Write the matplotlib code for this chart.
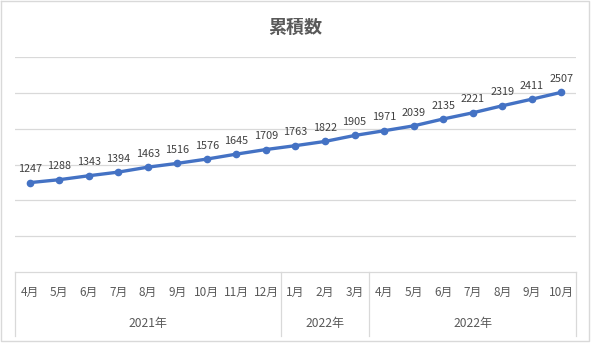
import matplotlib
matplotlib.use("Agg")
import matplotlib.pyplot as plt
from matplotlib.lines import Line2D

plt.rcParams['font.family'] = ['Noto Sans CJK JP', 'DejaVu Sans']

months = ["4月", "5月", "6月", "7月", "8月", "9月", "10月", "11月", "12月",
          "1月", "2月", "3月",
          "4月", "5月", "6月", "7月", "8月", "9月", "10月"]
values = [1247, 1288, 1343, 1394, 1463, 1516, 1576, 1645, 1709,
          1763, 1822, 1905,
          1971, 2039, 2135, 2221, 2319, 2411, 2507]
# year groups: (label, number of months)
groups = [("2021年", 9), ("2022年", 3), ("2022年", 7)]

W, H = 595, 344
fig = plt.figure(figsize=(W / 100, H / 100), dpi=100)
fig.patch.set_facecolor("white")

left, right, top, bottom = 15, 576, 57, 272
ax = fig.add_axes([left / W, 1 - bottom / H, (right - left) / W, (bottom - top) / H])

n = len(values)
x = list(range(n))
ax.plot(x, values, color="#4472C4", linewidth=2.4, marker="o", markersize=4.5,
        zorder=3, solid_capstyle="round")
for xi, v in zip(x, values):
    ax.annotate(str(v), (xi, v), textcoords="offset points", xytext=(0, 6),
                ha="center", va="bottom", fontsize=7.8, color="#404040")

ax.set_xlim(-0.5, n - 0.5)
ax.set_ylim(0, 3000)
ax.set_yticks(range(500, 3001, 500))
ax.yaxis.grid(True, color="#D9D9D9", linewidth=0.9)
ax.set_axisbelow(True)
ax.tick_params(left=False, labelleft=False, bottom=False, labelbottom=False)
for side in ["left", "right", "top"]:
    ax.spines[side].set_visible(False)
ax.spines["bottom"].set_color("#D9D9D9")
ax.spines["bottom"].set_linewidth(0.9)

# category table below the plot
table_bottom = 336
colw = (right - left) / n


def fx(px):
    return px / W


def fy(py):
    return 1 - py / H


bounds = [0]
for _, cnt in groups:
    bounds.append(bounds[-1] + cnt)
for b in bounds:
    xp = left + b * colw
    fig.add_artist(Line2D([fx(xp), fx(xp)], [fy(bottom), fy(table_bottom)],
                          color="#D9D9D9", linewidth=0.9))

for i, m in enumerate(months):
    fig.text(fx(left + (i + 0.5) * colw), fy(292), m, ha="center", va="center",
             fontsize=8.5, color="#595959")

for (label, cnt), b in zip(groups, bounds[:-1]):
    xc = left + (b + cnt / 2) * colw
    fig.text(fx(xc), fy(323), label, ha="center", va="center",
             fontsize=8.7, color="#595959")

fig.text(fx(295), fy(27), "累積数", ha="center", va="center", fontsize=13,
         fontweight="bold", color="#595959")

# outer border
fig.add_artist(Line2D([fx(0.5), fx(589), fx(589), fx(0.5), fx(0.5)],
                      [fy(1), fy(1), fy(341), fy(341), fy(1)],
                      color="#D9D9D9", linewidth=1))

fig.savefig("out.png", dpi=100)
